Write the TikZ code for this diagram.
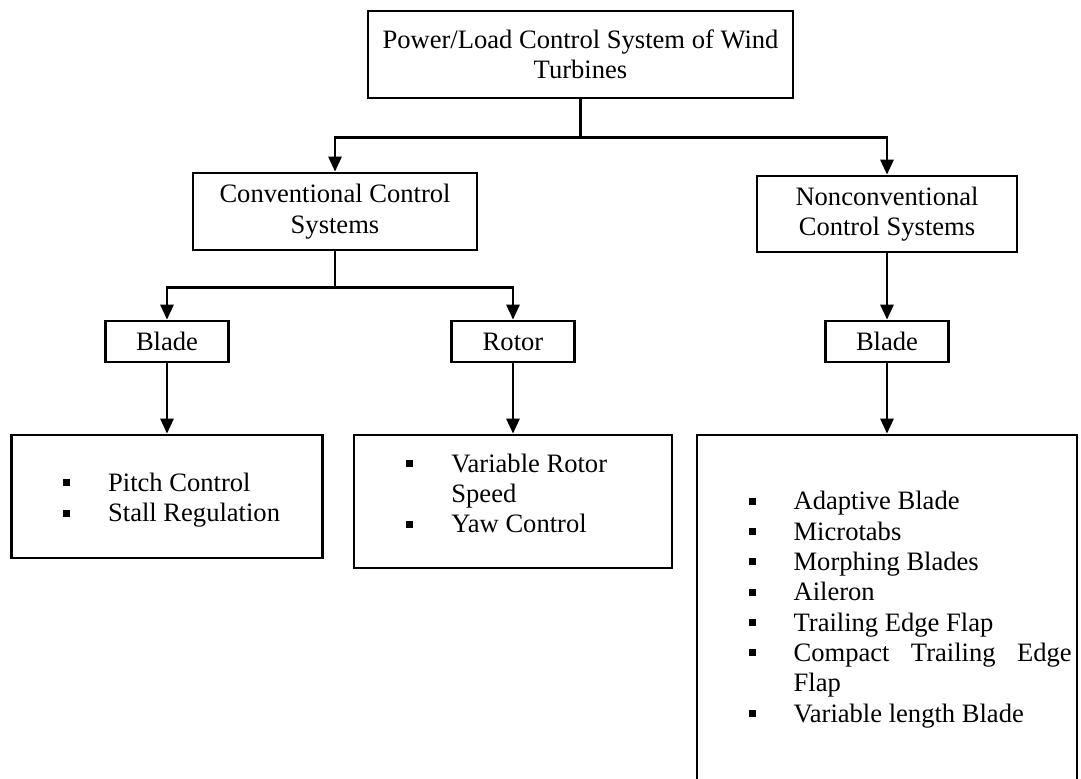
\documentclass[tikz,border=0pt]{standalone}
\usepackage{fontspec}
\setmainfont{Liberation Serif}
\usetikzlibrary{arrows.meta,positioning}
\newcommand{\sqbul}{\raisebox{1.3mm}{\rule{1.75mm}{1.75mm}}}
\newcommand{\itm}{\makebox[11.25mm][l]{\sqbul}}

\begin{document}
\begin{tikzpicture}[
    x=0.25mm, y=-0.25mm,
    box/.style={rectangle,draw,line width=1.9pt,inner sep=0pt,align=center,
      font=\fontsize{18.9pt}{21.6pt}\selectfont},
    line/.style={line width=1.9pt},
    >={Triangle[length=3.75mm,width=3.25mm]}]
    \useasboundingbox (0,0) rectangle (1081,778);
    \clip (0,0) rectangle (1081,778);

    \node[box,minimum width=106.25mm,minimum height=21.75mm] (pl) at (580.5,54.5)
      {Power/Load Control System of Wind\\Turbines};
    \node[box,minimum width=71mm,minimum height=19.25mm] (conv) at (335,211.5)
      {Conventional Control\\Systems};
    \node[box,minimum width=65mm,minimum height=19mm] (nconv) at (887,214)
      {Nonconventional\\Control Systems};

    \node[box,minimum width=30.75mm,minimum height=10.25mm] (bladeL) at (167,341.5) {Blade};
    \node[box,minimum width=30.75mm,minimum height=10.25mm] (rotor) at (513,341.5) {Rotor};
    \node[box,minimum width=30.75mm,minimum height=10.25mm] (bladeR) at (887,341.5) {Blade};

    % lists
    \node[box,minimum width=77.75mm,minimum height=30.75mm] (listL) at (167,496.5)
      {\makebox[77.75mm][l]{\hspace{12.9mm}\begin{tabular}{@{}l@{}}
        \rule{0pt}{7.3mm}\itm Pitch Control\\
        \itm Stall Regulation
      \end{tabular}}};
    \node[box,minimum width=79.5mm,minimum height=33.25mm] (listM) at (513,501.5)
      {\makebox[79.5mm][l]{\hspace{13.1mm}\begin{tabular}{@{}l@{}}
        \itm Variable Rotor\\
        \hspace*{11.25mm}Speed\\
        \itm Yaw Control\\[2.5mm]
      \end{tabular}}};
    \node[box,minimum width=95mm,minimum height=87.5mm] (listR) at (887,610)
      {\makebox[95mm][l]{\hspace{12.9mm}\begin{tabular}{@{}l@{}}
        \itm Adaptive Blade\\
        \itm Microtabs\\
        \itm Morphing Blades\\
        \itm Aileron\\
        \itm Trailing Edge Flap\\
        \itm\makebox[69.5mm][s]{Compact Trailing Edge}\\
        \hspace*{11.25mm}Flap\\
        \itm Variable length Blade
      \end{tabular}}};

    \coordinate[below=9.5mm of pl] (j1);
    \coordinate[below=9mm of conv] (j2);

    \draw[line] (pl) -- (j1);
    \draw[line,->] (j1) -| (conv);
    \draw[line,->] (j1) -| (nconv);
    \draw[line] (conv) -- (j2);
    \draw[line,->] (j2) -| (bladeL);
    \draw[line,->] (j2) -| (rotor);
    \draw[line,->] (nconv) -- (bladeR);
    \draw[line,->] (bladeL) -- (listL);
    \draw[line,->] (rotor) -- (listM);
    \draw[line,->] (bladeR) -- (listR);
  \end{tikzpicture}
\end{document}
